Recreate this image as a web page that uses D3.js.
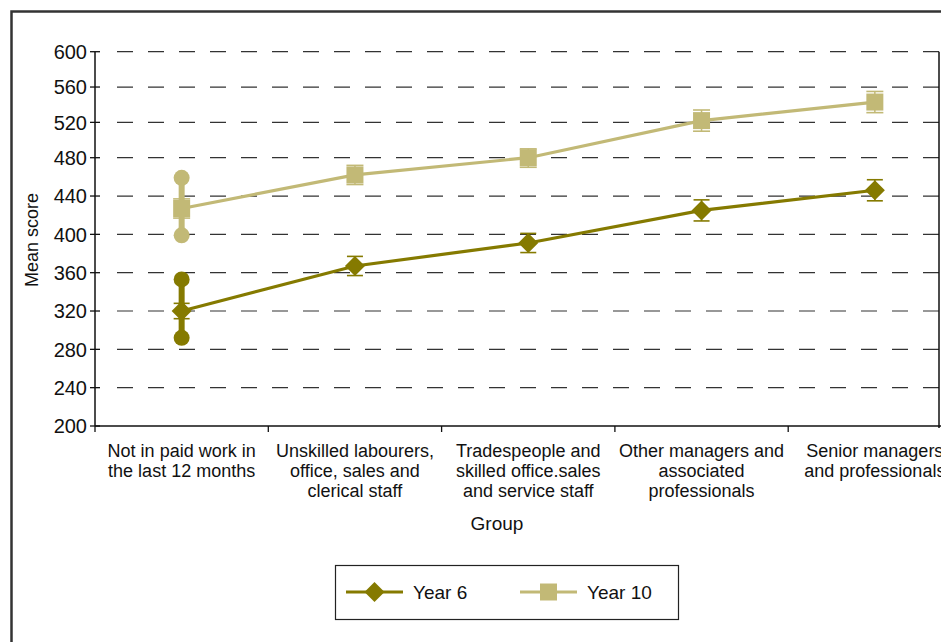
<!DOCTYPE html>
<html><head><meta charset="utf-8">
<script src="https://cdn.jsdelivr.net/npm/d3@7/dist/d3.min.js"></script>
<style>
html,body{margin:0;padding:0;background:#fff;overflow:hidden;}
svg{display:block;font-family:"Liberation Sans",Arial,Helvetica,sans-serif;}
</style></head>
<body>
<svg id="chart" width="941" height="642"></svg>
<script>
const categories = [
  ["Not in paid work in","the last 12 months"],
  ["Unskilled labourers,","office, sales and","clerical staff"],
  ["Tradespeople and","skilled office.sales","and service staff"],
  ["Other managers and","associated","professionals"],
  ["Senior managers","and professionals"]
];
const year6 = [320, 367, 391, 425, 446];
const year6Err = [8, 10, 10, 11, 11];
const year10 = [427, 462, 480, 522, 543];
const year10Err = [10, 10, 10, 12, 12];
const year6Range = [292, 353];
const year10Range = [399, 459];
const yTicks = [200, 240, 280, 320, 360, 400, 440, 480, 520, 560, 600];
const seriesNames = ["Year 6", "Year 10"];

const c6 = "#857a00", c10 = "#c2b976";
const svg = d3.select("#chart");
const keys = categories.map((d,i)=>"c"+i);

const x = d3.scaleBand().domain(keys).range([95, 95 + 5*173.3]).padding(0);
const cx = k => x(k) + x.bandwidth()/2;
const y = d3.scaleLinear().domain([200, 480, 600]).range([426, 157.7, 51.7]);

// outer frame
svg.append("rect").attr("x",11.5).attr("y",11.5).attr("width",1000).attr("height",700)
  .attr("fill","none").attr("stroke","#333").attr("stroke-width",2.5);

// gridlines
svg.append("g").selectAll("line").data(yTicks.filter(t=>t!==200)).join("line")
  .attr("x1",117).attr("x2",939).attr("y1",d=>y(d)).attr("y2",d=>y(d))
  .attr("stroke","#333").attr("stroke-width",1.2).attr("stroke-dasharray","16,15");

// right edge line
svg.append("line").attr("x1",939).attr("x2",939).attr("y1",y(600)).attr("y2",y(200)+2)
  .attr("stroke","#111").attr("stroke-width",1.5);

// y axis
svg.append("line").attr("x1",95).attr("x2",95).attr("y1",y(600)).attr("y2",y(200))
  .attr("stroke","#111").attr("stroke-width",1.5);
const yt = svg.append("g").selectAll("g").data(yTicks).join("g");
yt.append("line").attr("x1",90).attr("x2",100).attr("y1",d=>y(d)).attr("y2",d=>y(d))
  .attr("stroke","#111").attr("stroke-width",1.3);
yt.append("text").attr("x",87).attr("y",d=>y(d)).attr("dy","0.36em")
  .attr("text-anchor","end").attr("font-size",20).attr("fill","#111").text(d=>d);

// x axis
svg.append("line").attr("x1",95).attr("x2",941).attr("y1",y(200)).attr("y2",y(200))
  .attr("stroke","#111").attr("stroke-width",1.5);
svg.append("g").selectAll("line").data(keys).join("line")
  .attr("x1",d=>x(d)).attr("x2",d=>x(d)).attr("y1",y(200)).attr("y2",y(200)+6)
  .attr("stroke","#111").attr("stroke-width",1.3);
const xl = svg.append("g").selectAll("text").data(keys).join("text")
  .attr("x",d=>cx(d)).attr("y",457).attr("text-anchor","middle")
  .attr("font-size",18).attr("fill","#111");
xl.selectAll("tspan").data((d,i)=>categories[i]).join("tspan")
  .attr("x",function(){return cx(d3.select(this.parentNode).datum());})
  .attr("dy",(d,i)=>i===0?0:20).text(d=>d);

// axis titles
svg.append("text").attr("x",497).attr("y",530).attr("text-anchor","middle")
  .attr("font-size",19).attr("fill","#111").text("Group");
svg.append("text").attr("transform","translate(38,240) rotate(-90)")
  .attr("text-anchor","middle").attr("font-size",18).attr("fill","#111").text("Mean score");

// range bars at first category
function rangeBar(r, col){
  const k = keys[0];
  svg.append("line").attr("x1",cx(k)).attr("x2",cx(k)).attr("y1",y(r[0])).attr("y2",y(r[1]))
    .attr("stroke",col).attr("stroke-width",6);
  svg.append("g").selectAll("circle").data(r).join("circle")
    .attr("cx",cx(k)).attr("cy",d=>y(d)).attr("r",8).attr("fill",col);
}
rangeBar(year10Range, c10);
rangeBar(year6Range, c6);

const line = d3.line().x((d,i)=>cx(keys[i])).y(d=>y(d));
function series(vals, errs, col, marker, capW){
  svg.append("path").datum(vals).attr("d",line).attr("fill","none")
    .attr("stroke",col).attr("stroke-width",3.2);
  const g = svg.append("g").selectAll("g").data(vals).join("g");
  g.append("line").attr("x1",(d,i)=>cx(keys[i])).attr("x2",(d,i)=>cx(keys[i]))
    .attr("y1",(d,i)=>y(d+errs[i])).attr("y2",(d,i)=>y(d-errs[i])).attr("stroke",col).attr("stroke-width",1.5);
  [1,-1].forEach(s=>{
    g.append("line").attr("x1",(d,i)=>cx(keys[i])-capW/2).attr("x2",(d,i)=>cx(keys[i])+capW/2)
      .attr("y1",(d,i)=>y(d+s*errs[i])).attr("y2",(d,i)=>y(d+s*errs[i]))
      .attr("stroke",col).attr("stroke-width",1.6);
  });
  g.append("path").attr("transform",(d,i)=>`translate(${cx(keys[i])},${y(d)})`)
    .attr("d",marker).attr("fill",col);
}
const diamond = "M0,-10L10,0L0,10L-10,0Z";
const square = "M-8.5,-8.5H8.5V8.5H-8.5Z";
series(year10, year10Err, c10, square, 17);
series(year6, year6Err, c6, diamond, 16);

// legend
const lg = svg.append("g");
lg.append("rect").attr("x",335.5).attr("y",565.5).attr("width",343).attr("height",54)
  .attr("fill","#fff").attr("stroke","#222").attr("stroke-width",1.2);
const items = [{n:seriesNames[0],c:c6,m:diamond,x:346},{n:seriesNames[1],c:c10,m:square,x:520}];
items.forEach(it=>{
  lg.append("line").attr("x1",it.x).attr("x2",it.x+57).attr("y1",592).attr("y2",592)
    .attr("stroke",it.c).attr("stroke-width",3.2);
  lg.append("path").attr("transform",`translate(${it.x+28.5},592)`).attr("d",it.m).attr("fill",it.c);
  lg.append("text").attr("x",it.x+67).attr("y",599).attr("font-size",19).attr("fill","#111").text(it.n);
});
</script>
</body></html>
